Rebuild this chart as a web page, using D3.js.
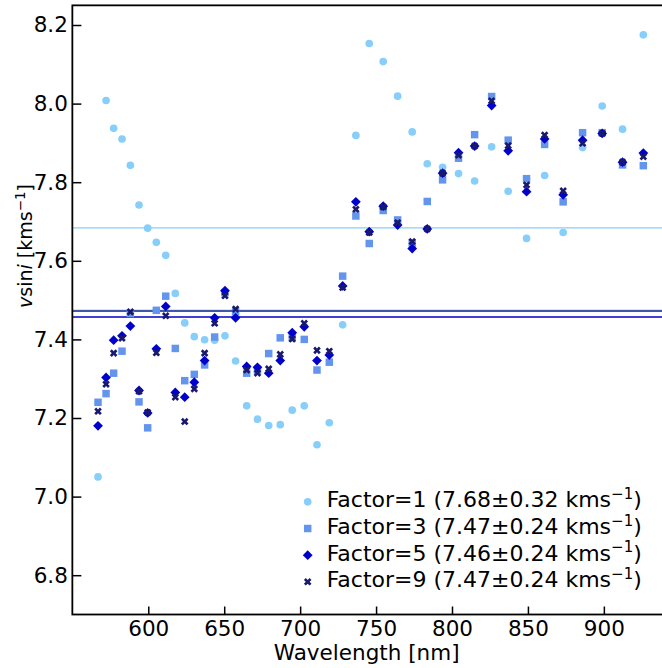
<!DOCTYPE html>
<html>
<head>
<meta charset="utf-8">
<script src="https://cdn.jsdelivr.net/npm/d3@7"></script>
<style>
  body { margin: 0; background: #fff; }
  svg { display: block; font-family: "DejaVu Sans", sans-serif; }
</style>
</head>
<body>
<div id="chart"></div>
<script>
// DATA -----------------------------------------------------------
const wavelengths = [566.9, 572.2, 577.2, 582.7, 588.2, 593.9, 599.6, 605.3, 611.5, 617.8,
  624.0, 630.3, 637.1, 643.7, 650.5, 657.5, 664.8, 671.9, 679.3, 686.9,
  694.8, 702.7, 711.1, 719.2, 728.0, 736.7, 745.5, 754.7, 764.2, 773.8,
  783.7, 793.8, 804.3, 814.9, 826.1, 837.0, 849.1, 861.0, 873.2, 886.0,
  898.9, 912.3, 926.0]

const factor1 = [7.050, 8.008, 7.937, 7.910, 7.843, 7.742, 7.683, 7.647, 7.614, 7.517,
  7.442, 7.407, 7.399, 7.398, 7.409, 7.345, 7.231, 7.197, 7.181, 7.183,
  7.220, 7.231, 7.132, 7.188, 7.437, 7.919, 8.153, 8.107, 8.019, 7.928,
  7.847, 7.838, 7.822, 7.803, 7.890, 7.777, 7.657, 7.817, 7.672, 7.888,
  7.994, 7.935, 8.175]

const factor3 = [7.240, 7.262, 7.314, 7.370, 7.466, 7.241, 7.175, 7.474, 7.510, 7.377,
  7.295, 7.311, 7.335, 7.406, 7.519, 7.470, 7.314, 7.320, 7.364, 7.404,
  7.405, 7.400, 7.322, 7.342, 7.561, 7.714, 7.644, 7.728, 7.704, 7.645,
  7.751, 7.806, 7.861, 7.921, 8.018, 7.907, 7.809, 7.896, 7.750, 7.926,
  7.926, 7.844, 7.842]

const factor5 = [7.180, 7.303, 7.398, 7.409, 7.434, 7.270, 7.213, 7.376, 7.484, 7.265,
  7.253, 7.291, 7.346, 7.455, 7.524, 7.455, 7.331, 7.329, 7.314, 7.346,
  7.417, 7.432, 7.346, 7.360, 7.536, 7.750, 7.674, 7.739, 7.691, 7.631,
  7.681, 7.823, 7.875, 7.892, 7.995, 7.880, 7.776, 7.910, 7.768, 7.907,
  7.924, 7.851, 7.874]

const factor9 = [7.217, 7.286, 7.365, 7.403, 7.470, 7.268, 7.214, 7.366, 7.460, 7.253,
  7.191, 7.274, 7.365, 7.441, 7.511, 7.477, 7.322, 7.314, 7.325, 7.362,
  7.401, 7.441, 7.372, 7.370, 7.532, 7.731, 7.672, 7.737, 7.697, 7.649,
  7.681, 7.823, 7.869, 7.892, 8.007, 7.893, 7.793, 7.920, 7.778, 7.899,
  7.924, 7.851, 7.865]

const factorNames = ["Factor=1", "Factor=3", "Factor=5", "Factor=9"]
const meanLines = [7.684, 7.474, 7.457, 7.472]
const meanLabels = ["7.68", "7.47", "7.46", "7.47"]
const errLabels = ["0.32", "0.24", "0.24", "0.24"]
const xTicks = [600, 650, 700, 750, 800, 850, 900]
const yTicks = [6.8, 7.0, 7.2, 7.4, 7.6, 7.8, 8.0, 8.2]

// SETUP -----------------------------------------------------------
const width = 662
const height = 668
const fontSize = 21.5
const legendSize = 22
const supSize = 15

const svg = d3.select("#chart").append("svg")
    .attr("width", width)
    .attr("height", height)

const xScale = d3.scaleLinear()
    .domain([550, 940])
    .range([72.35, 664.6])

const yScale = d3.scaleLinear()
    .domain([6.70, 8.25])
    .range([614.5, 5.35])

const series = [
    { name: factorNames[0], values: factor1, color: "#87cefa", type: d3.symbolSquare, shape: "circle", size: 46 },
    { name: factorNames[1], values: factor3, color: "#6495ed", type: d3.symbolSquare, shape: "square", size: 56 },
    { name: factorNames[2], values: factor5, color: "#0000cd", type: d3.symbolSquare, shape: "diamond", size: 48 },
    { name: factorNames[3], values: factor9, color: "#191970", type: d3.symbolCross, shape: "x", size: 36 }
]

function symbolPath(s) {
    if (s.shape === "circle") return d3.symbol(d3.symbolCircle, s.size)()
    return d3.symbol(s.type, s.size)()
}
function symbolRotate(s) {
    return (s.shape === "diamond" || s.shape === "x") ? " rotate(45)" : ""
}

// MEAN LINES -----------------------------------------------------------
const plot = svg.append("g")

meanLines.forEach((m, i) => {
    plot.append("line")
        .attr("x1", xScale(550))
        .attr("x2", xScale(940))
        .attr("y1", yScale(m))
        .attr("y2", yScale(m))
        .attr("stroke", series[i].color)
        .attr("stroke-width", 1.3)
})

// POINTS -----------------------------------------------------------
series.forEach(s => {
    plot.append("g")
        .selectAll("path")
        .data(s.values.map((v, i) => ({ wl: wavelengths[i], v: v })))
        .join("path")
            .attr("d", symbolPath(s))
            .attr("transform", d => `translate(${xScale(d.wl)},${yScale(d.v)})` + symbolRotate(s))
            .attr("fill", s.color)
})

// AXES -----------------------------------------------------------
const xAxis = svg.append("g")
    .attr("transform", `translate(0,${yScale(6.70)})`)
    .call(d3.axisBottom(xScale).tickValues(xTicks).tickSize(-8).tickPadding(6).tickFormat(d3.format("d")))

const yAxis = svg.append("g")
    .attr("transform", `translate(${xScale(550)},0)`)
    .call(d3.axisLeft(yScale).tickValues(yTicks).tickSize(-9).tickPadding(4.5).tickFormat(d3.format(".1f")))

;[xAxis, yAxis].forEach(a => {
    a.select(".domain").remove()
    a.selectAll(".tick line").attr("stroke", "#000").attr("stroke-width", 1.5)
    a.selectAll(".tick text")
        .attr("fill", "#000")
        .style("font-size", fontSize + "px")
        .style("font-family", "DejaVu Sans")
})

// frame
svg.append("rect")
    .attr("x", xScale(550))
    .attr("y", yScale(8.25))
    .attr("width", xScale(940) - xScale(550))
    .attr("height", yScale(6.70) - yScale(8.25))
    .attr("fill", "none")
    .attr("stroke", "#000")
    .attr("stroke-width", 1.8)

// axis labels
svg.append("text")
    .attr("x", (xScale(550) + 661) / 2)
    .attr("y", 660)
    .attr("text-anchor", "middle")
    .style("font-size", fontSize + "px")
    .text("Wavelength [nm]")

const yLabel = svg.append("text")
    .attr("transform", "translate(32,246) rotate(-90)")
    .attr("text-anchor", "middle")
    .style("font-size", "19px")
yLabel.append("tspan").style("font-style", "italic").text("v")
yLabel.append("tspan").text("sin")
yLabel.append("tspan").style("font-style", "italic").text("i")
yLabel.append("tspan").text(" [kms")
yLabel.append("tspan").attr("dy", -7).style("font-size", "13.5px").text("\u22121")
yLabel.append("tspan").attr("dy", 7).text("]")

// LEGEND -----------------------------------------------------------
const legendRows = [507.3, 534, 560.7, 587.3]

series.forEach((s, i) => {
    const row = svg.append("g")
    row.append("path")
        .attr("d", symbolPath(s))
        .attr("transform", `translate(307.7,${legendRows[i] - 5.5})` + symbolRotate(s))
        .attr("fill", s.color)
    const t = row.append("text")
        .attr("x", 326.7)
        .attr("y", legendRows[i])
        .style("font-size", legendSize + "px")
    t.append("tspan").text(`${s.name} (${meanLabels[i]}\u00b1${errLabels[i]} kms`)
    t.append("tspan").attr("dy", -8.5).style("font-size", supSize + "px").text("\u22121")
    t.append("tspan").attr("dy", 8.5).text(")")
})
</script>
</body>
</html>
